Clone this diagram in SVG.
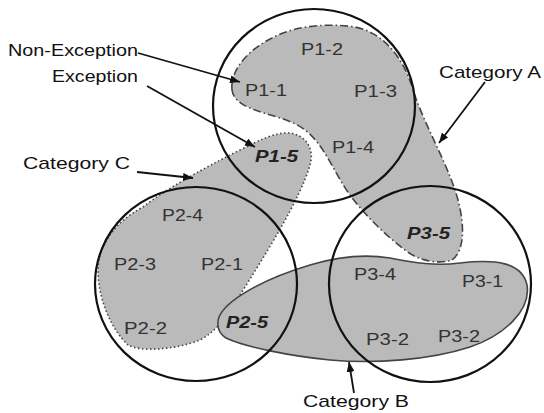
<svg xmlns="http://www.w3.org/2000/svg" width="544" height="413" viewBox="0 0 544 413">
<defs>
<marker id="ah" viewBox="0 0 10 8" refX="10" refY="4" markerWidth="10" markerHeight="8" markerUnits="userSpaceOnUse" orient="auto">
<path d="M0,0 L10,4 L0,8 Z" fill="#111"/>
</marker>
<style>
.reg{fill:#bababa;stroke:#444;stroke-width:1.6}
.a{stroke-dasharray:8,3,1.5,3}
.c{stroke-dasharray:1.5,2.5}
.cir{fill:none;stroke:#111;stroke-width:2.2}
.t{font-family:"Liberation Sans",Arial,sans-serif;font-size:17px;fill:#333}
.bi{font-weight:bold;font-style:italic;fill:#222}
.lb{fill:#111}
.arr{fill:none;stroke:#111;stroke-width:1.8;marker-end:url(#ah)}
</style>
</defs>
<rect width="544" height="413" fill="#fff"/>
<g id="categoryA">
<path class="reg a" d="M232,90 C230,70 248,50 272,38 C290,28 320,22 355,27 C385,33 405,60 414,93 C425,125 445,160 455,190 C465,220 466,250 452,260 C440,264 420,262 405,250 C385,235 365,215 350,195 C335,175 325,145 305,130 C290,118 265,115 250,108 C240,104 233,98 232,90 Z"/>
</g>
<g id="categoryC">
<path class="reg c" d="M143,207 C165,190 200,170 240,150 C260,140 275,132 290,133 C305,135 315,148 310,165 C300,200 265,255 240,295 C228,315 218,330 200,340 C175,350 140,352 128,345 C112,330 98,300 98,270 C98,245 115,222 143,207 Z"/>
</g>
<g id="categoryB">
<path class="reg" d="M218,325 C215,305 260,280 310,265 C340,256 365,254 390,258 C415,263 435,266 460,263 C495,259 522,262 527,285 C531,310 505,335 470,347 C430,360 375,364 330,360 C290,356 245,347 226,338 C220,334 218,330 218,325 Z"/>
</g>
<g id="circles">
<ellipse id="circle1" class="cir" cx="314" cy="106" rx="101" ry="97"/>
<ellipse id="circle2" class="cir" cx="196" cy="284" rx="101" ry="97"/>
<ellipse id="circle3" class="cir" cx="430" cy="284" rx="101" ry="98"/>
</g>
<g id="items" class="t">
<text x="245" y="96" textLength="42" lengthAdjust="spacingAndGlyphs">P1-1</text>
<text x="301" y="55" textLength="42" lengthAdjust="spacingAndGlyphs">P1-2</text>
<text x="354" y="97" textLength="43" lengthAdjust="spacingAndGlyphs">P1-3</text>
<text x="332" y="153" textLength="42" lengthAdjust="spacingAndGlyphs">P1-4</text>
<text class="bi" x="255" y="162" textLength="43" lengthAdjust="spacingAndGlyphs">P1-5</text>
<text x="162" y="221" textLength="41" lengthAdjust="spacingAndGlyphs">P2-4</text>
<text x="114" y="270" textLength="42" lengthAdjust="spacingAndGlyphs">P2-3</text>
<text x="201" y="270" textLength="42" lengthAdjust="spacingAndGlyphs">P2-1</text>
<text x="124" y="334" textLength="43" lengthAdjust="spacingAndGlyphs">P2-2</text>
<text class="bi" x="226" y="328" textLength="42" lengthAdjust="spacingAndGlyphs">P2-5</text>
<text class="bi" x="407" y="239" textLength="43" lengthAdjust="spacingAndGlyphs">P3-5</text>
<text x="354" y="280" textLength="42" lengthAdjust="spacingAndGlyphs">P3-4</text>
<text x="462" y="287" textLength="41" lengthAdjust="spacingAndGlyphs">P3-1</text>
<text x="366" y="345" textLength="43" lengthAdjust="spacingAndGlyphs">P3-2</text>
<text x="438" y="342" textLength="42" lengthAdjust="spacingAndGlyphs">P3-2</text>
</g>
<g id="labels" class="t">
<text class="lb" x="8" y="56" textLength="130" lengthAdjust="spacingAndGlyphs">Non-Exception</text>
<text class="lb" x="52" y="82" textLength="86" lengthAdjust="spacingAndGlyphs">Exception</text>
<text class="lb" x="23" y="169" textLength="107" lengthAdjust="spacingAndGlyphs">Category  C</text>
<text class="lb" x="439" y="78" textLength="102" lengthAdjust="spacingAndGlyphs">Category  A</text>
<text class="lb" x="303" y="407" textLength="106" lengthAdjust="spacingAndGlyphs">Category  B</text>
</g>
<g id="connectors">
<line class="arr" x1="138" y1="53" x2="240" y2="82"/>
<line class="arr" x1="147" y1="86" x2="255" y2="147"/>
<line class="arr" x1="137" y1="172" x2="193" y2="178"/>
<line class="arr" x1="485" y1="82" x2="439" y2="143"/>
<line class="arr" x1="354" y1="393" x2="349" y2="362"/>
</g>
</svg>
